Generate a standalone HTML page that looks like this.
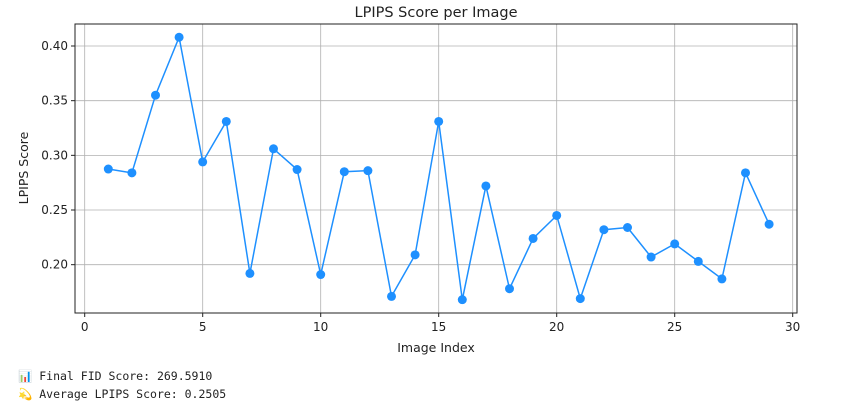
<!DOCTYPE html>
<html><head><meta charset="utf-8"><style>
body{margin:0;background:#fff;width:868px;height:408px;overflow:hidden;font-family:"DejaVu Sans","Liberation Sans",sans-serif;}
svg{position:absolute;left:0;top:0}
.out{position:absolute;left:18px;font-family:"DejaVu Sans Mono","Liberation Mono",monospace;font-size:11.5px;color:#222;}
</style></head><body>
<svg width="868" height="360">
<g id="grid"></g><g id="ticks"></g>
<rect x="75" y="24" width="722" height="289" fill="none" stroke="#222" stroke-width="1"/>
<g id="marks"></g>
<text x="436" y="17" text-anchor="middle" font-size="14.5" fill="#222">LPIPS Score per Image</text>
<text x="436" y="352" text-anchor="middle" font-size="12.5" fill="#222">Image Index</text>
<text transform="translate(28,168) rotate(-90)" text-anchor="middle" font-size="12.5" fill="#222">LPIPS Score</text>
</svg>
<div class="out" style="top:369px">📊 Final FID Score: 269.5910</div>
<div class="out" style="top:387px">💫 Average LPIPS Score: 0.2505</div>
<script>
const xTicks=[0,5,10,15,20,25,30];
const yTicks=[0.20,0.25,0.30,0.35,0.40];
const yTickLabels=["0.20","0.25","0.30","0.35","0.40"];
const indices=[1,2,3,4,5,6,7,8,9,10,11,12,13,14,15,16,17,18,19,20,21,22,23,24,25,26,27,28,29];
const scores=[0.2875,0.284,0.355,0.408,0.294,0.331,0.192,0.306,0.287,0.191,0.285,0.286,0.171,0.209,0.331,0.168,0.272,0.178,0.224,0.245,0.169,0.232,0.234,0.207,0.219,0.203,0.187,0.284,0.237];
const NS="http://www.w3.org/2000/svg";
const xs=v=>84.7+v*23.6;
const ys=v=>46+(0.40-v)*1093.4;
function mk(t,a,p){const e=document.createElementNS(NS,t);for(const k in a)e.setAttribute(k,a[k]);document.getElementById(p).appendChild(e);return e;}
xTicks.forEach(t=>{
 const g=mk('line',{x1:xs(t),x2:xs(t),y1:24,y2:313,stroke:'#b0b0b0','stroke-width':0.8},'grid');
 
 
 mk('line',{x1:xs(t),x2:xs(t),y1:313,y2:317,stroke:'#222'},'ticks');
 const l=mk('text',{x:xs(t),y:331,'text-anchor':'middle','font-size':12,fill:'#222'},'ticks');l.textContent=t;
 
 
});
yTicks.forEach((t,i)=>{
 const g=mk('line',{x1:75,x2:797,y1:ys(t),y2:ys(t),stroke:'#b0b0b0','stroke-width':0.8},'grid');
 
 
 mk('line',{x1:71,x2:75,y1:ys(t),y2:ys(t),stroke:'#222'},'ticks');
 const l=mk('text',{x:68,y:ys(t)+4,'text-anchor':'end','font-size':12,fill:'#222'},'ticks');l.textContent=yTickLabels[i];
 
 
});
const pl=mk('polyline',{points:indices.map((x,i)=>xs(x)+','+ys(scores[i])).join(' '),fill:'none',stroke:'#1e90ff','stroke-width':1.5},'marks');


indices.forEach((x,i)=>{
 const c=mk('circle',{cx:xs(x),cy:ys(scores[i]),r:4.5,fill:'#1e90ff'},'marks');
 
 
});
</script>
</body></html>
